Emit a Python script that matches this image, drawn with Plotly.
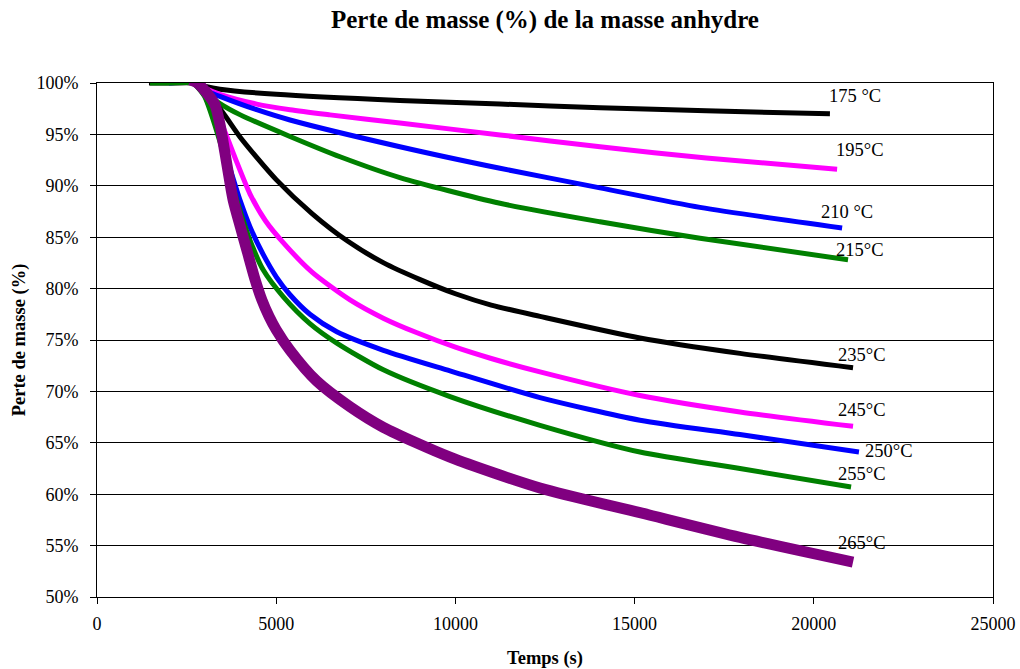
import plotly.graph_objects as go

# Time (s) and mass (%) per series
t175 = [1450, 2000, 2700, 3000, 3430, 5000, 8450, 11245, 14035, 17000, 20450]
y175 = [100.0, 100.0, 100.0, 99.7, 99.4, 98.9, 98.3, 97.95, 97.6, 97.3, 97.0]

t195 = [2600, 2700, 3000, 3430, 4455, 5385, 6500, 8450, 11245, 14035, 17000, 20650]
y195 = [100.0, 100.0, 99.5, 98.9, 97.95, 97.4, 96.9, 96.1, 94.95, 93.8, 92.7, 91.6]

t210 = [2000, 2700, 2870, 3430, 4455, 5385, 8450, 11245, 14035, 16825, 20790]
y210 = [100.0, 100.1, 99.5, 98.7, 97.4, 96.4, 93.8, 91.7, 89.8, 87.9, 85.9]

t215 = [1480, 2000, 2700, 2900, 3430, 4000, 5385, 6800, 8450, 11245, 14035, 16825, 20955]
y215 = [100.0, 100.0, 100.0, 99.4, 98.0, 96.9, 94.8, 92.8, 90.8, 88.3, 86.5, 84.9, 82.8]

t235 = [2700, 3000, 3515, 4000, 5000, 6000, 7000, 8000, 9000, 10000, 11000, 12360, 15150, 17940, 21095]
y235 = [100.0, 99.3, 97.1, 94.7, 90.6, 87.3, 84.6, 82.5, 80.9, 79.5, 78.4, 77.3, 75.2, 73.7, 72.3]

t245 = [2700, 3000, 3300, 3600, 3900, 4270, 4700, 5190, 6000, 7060, 8000, 8930, 10000, 11000, 12360, 15150, 17940, 21095]
y245 = [100.0, 99.2, 97.5, 95.0, 92.3, 89.2, 86.6, 84.5, 81.6, 78.9, 77.1, 75.7, 74.3, 73.2, 71.9, 69.6, 68.0, 66.6]

t250 = [2700, 3000, 3500, 3990, 4270, 4640, 5010, 5385, 5940, 6690, 7990, 9850, 12360, 15150, 17940, 21260]
y250 = [100.0, 98.8, 94.0, 88.6, 86.0, 83.3, 81.1, 79.4, 77.5, 75.8, 74.0, 72.0, 69.4, 67.2, 65.8, 64.1]

t255 = [2700, 3000, 3500, 3900, 4270, 4640, 5200, 5940, 6690, 7990, 9850, 12360, 15150, 17940, 21040]
y255 = [100.0, 98.7, 93.5, 88.6, 84.7, 81.8, 79.2, 76.6, 74.7, 72.1, 69.5, 66.7, 64.1, 62.5, 60.7]

t265 = [2600, 2800, 3070, 3290, 3430, 3570, 3700, 3800, 4000, 4200, 4400, 4600, 4800, 5000, 5385, 6130, 7060, 7990, 9850, 12360, 15150, 17940, 21095]
y265 = [100.3, 100.0, 99.0, 97.9, 96.0, 93.2, 90.5, 88.6, 86.0, 83.5, 81.0, 78.9, 77.3, 76.0, 74.0, 71.0, 68.5, 66.5, 63.6, 60.6, 58.2, 55.8, 53.4]

labels = ["175 °C", "195°C", "210 °C", "215°C", "235°C", "245°C", "250°C", "255°C", "265°C"]
label_x = [21150, 21290, 20925, 21290, 21345, 21345, 22100, 21345, 21345]
label_y = [98.74, 93.48, 87.45, 83.75, 73.54, 68.19, 64.2, 61.96, 55.25]

x_ticks = [0, 5000, 10000, 15000, 20000, 25000]
y_ticks = [50, 55, 60, 65, 70, 75, 80, 85, 90, 95, 100]

title_text = "<b>Perte de masse (%) de la masse anhydre</b>"

series = [
    (t175, y175, "#000000", 5),
    (t195, y195, "#FF00FF", 5),
    (t210, y210, "#0000FF", 5),
    (t215, y215, "#008000", 5),
    (t235, y235, "#000000", 5),
    (t245, y245, "#FF00FF", 5),
    (t250, y250, "#0000FF", 5),
    (t255, y255, "#008000", 5),
    (t265, y265, "#800080", 11),
]

SERIF = "Liberation Serif"

fig = go.Figure()
for (t, y, c, w), name in zip(series, labels):
    fig.add_trace(go.Scatter(x=t, y=y, mode="lines", name=name,
                             line=dict(color=c, width=w, shape="spline", smoothing=0.7)))

for lx, ly, lt in zip(label_x, label_y, labels):
    fig.add_annotation(x=lx, y=ly, text=lt, showarrow=False, xanchor="center", yanchor="middle",
                       font=dict(family=SERIF, size=18.5, color="#000000"))

# chart title as a paper-anchored annotation, centred over the plot area
fig.add_annotation(xref="paper", yref="paper", x=0.5, y=1 + 63/514, text=title_text,
                   showarrow=False, xanchor="center", yanchor="middle",
                   font=dict(family=SERIF, size=25, color="#000000"))

fig.update_layout(
    width=1020, height=669,
    margin=dict(l=97, r=27, t=83, b=72),
    paper_bgcolor="white", plot_bgcolor="white",
    showlegend=False,
    font=dict(family=SERIF, color="#000000"),
)
fig.update_xaxes(range=[0, 25000], tickvals=x_ticks, ticktext=[str(v) for v in x_ticks],
                 automargin=False,
                 showgrid=False, zeroline=False, showline=True, linecolor="#000000", linewidth=1, mirror=True,
                 ticks="outside", ticklen=6, tickcolor="#000000", ticklabelstandoff=4,
                 tickfont=dict(family=SERIF, size=18, color="#000000"),
                 title=dict(text="<b>Temps (s)</b>", standoff=18,
                            font=dict(family=SERIF, size=18.5, color="#000000")))
fig.update_yaxes(range=[50, 100], tickvals=y_ticks, ticktext=[f"{v}%" for v in y_ticks],
                 automargin=False,
                 showgrid=True, gridcolor="#000000", gridwidth=1, zeroline=False,
                 showline=True, linecolor="#000000", linewidth=1, mirror=True,
                 ticks="outside", ticklen=6, tickcolor="#000000", ticklabelstandoff=8,
                 tickfont=dict(family=SERIF, size=18, color="#000000"),
                 title=dict(text="<b>Perte de masse (%)</b>", standoff=5,
                            font=dict(family=SERIF, size=18.5, color="#000000")))

# remove the default 8px page margin so the figure fills the window exactly
fig.write_html("out.html", config={"displayModeBar": False},
               post_script="document.body.style.margin='0';")
